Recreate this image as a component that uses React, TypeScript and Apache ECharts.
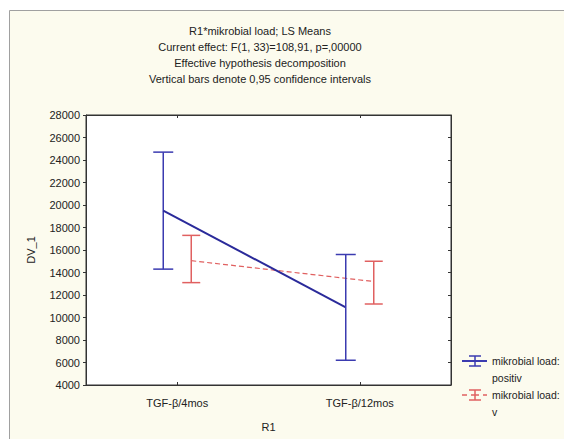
import React, { useEffect, useRef } from 'react';
import * as echarts from 'echarts';

const categories = ['TGF-β/4mos', 'TGF-β/12mos'];
const positivMean = [19500, 10900];
const positivLow = [14300, 6200];
const positivHigh = [24700, 15600];
const negativMean = [15050, 13200];
const negativLow = [13100, 11200];
const negativHigh = [17300, 15000];

const yMin = 4000;
const yMax = 28000;
const yInterval = 2000;

const titleLines = [
  'R1*mikrobial load; LS Means',
  'Current effect: F(1, 33)=108,91, p=,00000',
  'Effective hypothesis decomposition',
  'Vertical bars denote 0,95 confidence intervals',
];
const xName = 'R1';
const yName = 'DV_1';
const legendLines = [
  ['mikrobial load:', 'positiv'],
  ['mikrobial load:', 'v'],
];

const FONT = '"Liberation Sans", Arial, sans-serif';
const BLUE = '#3b3bb0';
const BLUE_LINE = '#2a2a9a';
const RED = '#e06060';

function makeRender(means: number[], offset: number, color: string, lineColor: string, connWidth: number, dashed: boolean, capHalf: number) {
  return (params: any, api: any) => {
    const i = params.dataIndex;
    const cat = api.value(0);
    const pm = api.coord([cat, api.value(1)]);
    const pl = api.coord([cat, api.value(2)]);
    const ph = api.coord([cat, api.value(3)]);
    const x = pm[0] + offset;
    const children: any[] = [];
    children.push({
      type: 'line',
      shape: { x1: x, y1: pl[1], x2: x, y2: ph[1] },
      style: { stroke: color, lineWidth: 1.5 },
    });
    children.push({
      type: 'line',
      shape: { x1: x - capHalf, y1: pl[1], x2: x + capHalf, y2: pl[1] },
      style: { stroke: color, lineWidth: 1.5 },
    });
    children.push({
      type: 'line',
      shape: { x1: x - capHalf, y1: ph[1], x2: x + capHalf, y2: ph[1] },
      style: { stroke: color, lineWidth: 1.5 },
    });
    if (i < means.length - 1) {
      const pn = api.coord([i + 1, means[i + 1]]);
      children.push({
        type: 'line',
        shape: { x1: x, y1: pm[1], x2: pn[0] + offset, y2: pn[1] },
        style: { stroke: lineColor, lineWidth: connWidth, lineDash: dashed ? [5, 3] : null },
      });
    }
    return { type: 'group', children };
  };
}

function legendMarker(cx: number, cy: number, color: string, dashed: boolean): any[] {
  const els: any[] = [];
  if (dashed) {
    els.push({ type: 'line', shape: { x1: cx - 13, y1: cy, x2: cx - 8, y2: cy }, style: { stroke: color, lineWidth: 1.5 } });
    els.push({ type: 'line', shape: { x1: cx - 4, y1: cy, x2: cx + 4, y2: cy }, style: { stroke: color, lineWidth: 1.5 } });
    els.push({ type: 'line', shape: { x1: cx + 8, y1: cy, x2: cx + 12, y2: cy }, style: { stroke: color, lineWidth: 1.5 } });
  } else {
    els.push({ type: 'line', shape: { x1: cx - 13, y1: cy, x2: cx + 12, y2: cy }, style: { stroke: color, lineWidth: 2 } });
  }
  els.push({ type: 'line', shape: { x1: cx, y1: cy - 5, x2: cx, y2: cy + 5 }, style: { stroke: color, lineWidth: 1.5 } });
  els.push({ type: 'line', shape: { x1: cx - 6, y1: cy - 5, x2: cx + 6, y2: cy - 5 }, style: { stroke: color, lineWidth: 1.5 } });
  els.push({ type: 'line', shape: { x1: cx - 6, y1: cy + 5, x2: cx + 6, y2: cy + 5 }, style: { stroke: color, lineWidth: 1.5 } });
  return els;
}

export default function App() {
  const ref = useRef<HTMLDivElement>(null);
  useEffect(() => {
    if (!ref.current) return;
    const chart = echarts.init(ref.current, null, { renderer: 'svg' });
    const textStyle = { fontFamily: FONT, fontSize: 11, color: '#222' };
    const graphics: any[] = [
      {
        type: 'rect',
        z: -10,
        silent: true,
        shape: { x: 9.5, y: 10.5, width: 700, height: 600 },
        style: { fill: '#fcfbee', stroke: '#a0a0a0', lineWidth: 1 },
      },
    ];
    titleLines.forEach((t, k) => {
      graphics.push({
        type: 'text',
        x: 260,
        y: 31 + k * 16,
        style: { text: t, align: 'center', verticalAlign: 'middle', font: `11px ${FONT}`, fill: '#222' },
      });
    });
    const legendY = [361, 395];
    const colors = [BLUE, RED];
    legendLines.forEach((lines, k) => {
      graphics.push(...legendMarker(475, legendY[k], colors[k], k === 1));
      lines.forEach((ln, j) => {
        graphics.push({
          type: 'text',
          x: 492,
          y: legendY[k] + j * 17,
          style: { text: ln, align: 'left', verticalAlign: 'middle', font: `10.5px ${FONT}`, fill: '#222' },
        });
      });
    });

    const axisLine = { show: true, lineStyle: { color: '#333', width: 1 } };
    chart.setOption({
      animation: false,
      backgroundColor: '#ffffff',
      grid: {
        left: 86,
        top: 115,
        width: 365,
        height: 270,
        show: true,
        backgroundColor: '#ffffff',
        borderColor: '#333',
        borderWidth: 1,
      },
      graphic: graphics,
      xAxis: [
        {
          type: 'category',
          data: categories,
          position: 'bottom',
          boundaryGap: true,
          axisLine,
          axisTick: { show: true, inside: true, length: 3, alignWithLabel: true, lineStyle: { color: '#333' } },
          axisLabel: { ...textStyle, margin: 12 },
          name: xName,
          nameLocation: 'middle',
          nameGap: 36,
          nameTextStyle: textStyle,
        },
        {
          type: 'category',
          data: categories,
          position: 'top',
          boundaryGap: true,
          axisLine,
          axisTick: { show: true, inside: true, length: 3, alignWithLabel: true, lineStyle: { color: '#333' } },
          axisLabel: { show: false },
        },
      ],
      yAxis: [
        {
          type: 'value',
          min: yMin,
          max: yMax,
          interval: yInterval,
          position: 'left',
          axisLine,
          axisTick: { show: true, inside: false, length: 3, lineStyle: { color: '#333' } },
          axisLabel: { ...textStyle, margin: 6, formatter: (v: number) => String(v) },
          splitLine: { show: false },
          name: yName,
          nameLocation: 'middle',
          nameGap: 50,
          nameRotate: 90,
          nameTextStyle: textStyle,
        },
        {
          type: 'value',
          min: yMin,
          max: yMax,
          interval: yInterval,
          position: 'right',
          axisLine,
          axisTick: { show: true, inside: true, length: 3, lineStyle: { color: '#333' } },
          axisLabel: { show: false },
          splitLine: { show: false },
        },
      ],
      series: [
        {
          type: 'custom',
          name: 'negativ',
          xAxisIndex: 0,
          yAxisIndex: 0,
          clip: false,
          renderItem: makeRender(negativMean, 14, RED, RED, 1.2, true, 9),
          encode: { x: 0, y: [1, 2, 3] },
          data: negativMean.map((m, i) => [i, m, negativLow[i], negativHigh[i]]),
        },
        {
          type: 'custom',
          name: 'positiv',
          xAxisIndex: 0,
          yAxisIndex: 0,
          clip: false,
          renderItem: makeRender(positivMean, -14, BLUE, BLUE_LINE, 2, false, 10),
          encode: { x: 0, y: [1, 2, 3] },
          data: positivMean.map((m, i) => [i, m, positivLow[i], positivHigh[i]]),
        },
      ],
    });
    return () => chart.dispose();
  }, []);
  return (
    <div
      ref={ref}
      style={{ position: 'fixed', left: 0, top: 0, width: 564, height: 439 }}
    />
  );
}
